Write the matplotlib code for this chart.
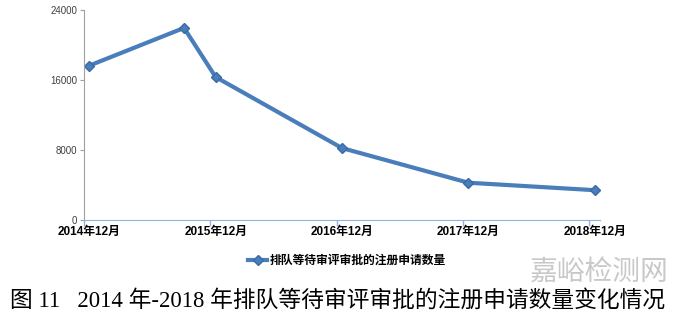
import numpy as np
import matplotlib
matplotlib.use("Agg")
import matplotlib.pyplot as plt
from matplotlib.lines import Line2D

plt.rcParams['font.family'] = ['Liberation Sans', 'Noto Sans CJK SC']

# data (queue of applications waiting for review)
dates = ['2014-12', '2015-09', '2015-12', '2016-12', '2017-12', '2018-12']
counts = [17600, 21900, 16300, 8200, 4250, 3400]
year_labels = ['2014年12月', '2015年12月', '2016年12月', '2017年12月', '2018年12月']
y_ticks = [0, 8000, 16000, 24000]
series_name = '排队等待审评审批的注册申请数量'
caption = '图 11   2014 年-2018 年排队等待审评审批的注册申请数量变化情况'


def month_index(s):
    y, m = s.split('-')
    return (int(y) - 2014) * 12 + int(m) - 12


x = np.array([month_index(d) for d in dates]) + 0.5  # points sit mid-month
line_color = '#4a7ebb'

fig = plt.figure(figsize=(6.8, 3.15), dpi=100)
ax = fig.add_axes([84 / 680, 1 - 220 / 315, 516 / 680, 210.5 / 315])

ax.plot(x, counts, color=line_color, lw=3, marker='D', ms=5,
        mfc=line_color, mec='#3a6aa5', solid_joinstyle='round')

ax.set_xlim(0, 49)
ax.set_ylim(0, 24000)
ax.set_yticks(y_ticks)
ax.set_yticklabels([str(v) for v in y_ticks], fontsize=7, color='#404040')

ax.set_xticks([0, 12, 24, 36, 48])
ax.set_xticklabels([])
ax.set_xticks([0.5 + 12 * i for i in range(5)], minor=True)
ax.set_xticklabels(year_labels, minor=True, fontsize=8.5, fontweight='bold')
ax.tick_params(axis='x', which='major', length=4, color='#8db3e2', width=1)
ax.tick_params(axis='x', which='minor', length=0, pad=4)
ax.tick_params(axis='y', length=3, color='#a0a0a0', pad=2)

for side in ['top', 'right']:
    ax.spines[side].set_visible(False)
ax.spines['left'].set_color('#a0a0a0')
ax.spines['bottom'].set_color('#8db3e2')

handle = Line2D([], [], color=line_color, lw=3, marker='D', ms=5,
                mfc=line_color, mec='#3a6aa5')
fig.legend([handle], [series_name], loc='center', bbox_to_anchor=(347 / 680, 1 - 261 / 315),
           frameon=False, handlelength=1.6, handletextpad=0.2,
           prop={'size': 8.5, 'weight': 'bold'})

fig.text(530 / 680, 1 - 272 / 315, '嘉峪检测网', fontsize=20, color='#c8c8c8',
         ha='left', va='center', family=['Noto Sans CJK SC'])

fig.text(10 / 680, 1 - 301 / 315, caption, fontsize=16.4, ha='left', va='center',
         fontweight='light', family=['Liberation Serif', 'Noto Sans CJK SC'])

fig.savefig('out.png', dpi=100)
